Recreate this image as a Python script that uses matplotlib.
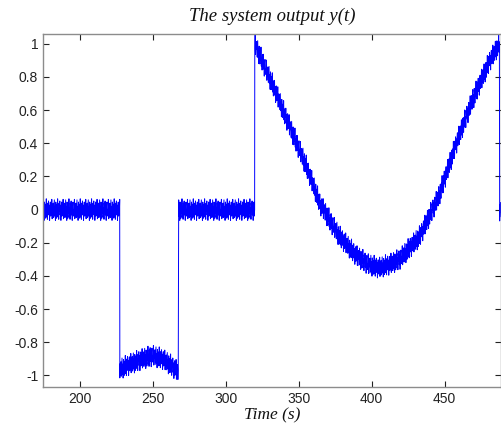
"""
System output plot: noisy step response followed by a slow swing.
"""

import matplotlib

matplotlib.use("Agg")
import matplotlib.pyplot as plt
import numpy as np

# Sample spacing of the logged signal (s)
DT = 0.25

# Trend knots (time, value), one list per segment
SEG_TIME = [
    [175.0, 227.5],
    [227.6, 235.0, 243.0, 250.0, 257.0, 263.0, 267.8],
    [267.9, 319.9],
    [320.0, 332.0, 344.0, 355.0, 365.0, 378.0, 390.0, 398.0, 405.0,
     412.0, 419.0, 433.0, 446.0, 458.0, 469.0, 481.0, 487.6],
    [487.7, 490.0],
]
SEG_VALUE = [
    [0.0, 0.0],
    [-0.96, -0.93, -0.90, -0.88, -0.90, -0.94, -0.98],
    [0.0, 0.0],
    [1.0, 0.76, 0.50, 0.27, 0.03, -0.16, -0.28, -0.33, -0.35,
     -0.33, -0.30, -0.16, 0.08, 0.40, 0.66, 0.90, 1.0],
    [-0.01, -0.01],
]

# Hand-typed measurement noise pattern (unit amplitude)
NOISE = [0.9, -0.6, 0.3, -1.0, 0.7, 0.1, -0.8, 0.5, -0.3, 1.0, -0.7,
         0.2, -0.9, 0.6, -0.1, 0.8, -0.5, 0.4, -1.0, 0.3, 0.7, -0.6,
         0.0, -0.4, 0.95, -0.85, 0.45, -0.2, 0.6, -0.75, 0.15]
NOISE_AMP = 0.065

X_TICKS = [200, 250, 300, 350, 400, 450]
Y_TICKS = [-1, -0.8, -0.6, -0.4, -0.2, 0, 0.2, 0.4, 0.6, 0.8, 1]
Y_TICK_LABELS = ["-1", "-0.8", "-0.6", "-0.4", "-0.2", "0",
                 "0.2", "0.4", "0.6", "0.8", "1"]


def build_signal():
    times, values = [], []
    for st, sv in zip(SEG_TIME, SEG_VALUE):
        t = np.arange(st[0], st[-1] + 1e-9, DT)
        times.append(t)
        values.append(np.interp(t, st, sv))
    t = np.concatenate(times)
    y = np.concatenate(values)
    noise = np.resize(np.array(NOISE), t.size) * NOISE_AMP
    return t, y + noise


def main():
    plt.rcParams["axes.unicode_minus"] = False
    t, y = build_signal()

    fig = plt.figure(figsize=(5.02, 4.25), dpi=100)
    ax = fig.add_axes([0.0857, 0.0894, 0.912, 0.831])
    ax.plot(t, y, color="#0000ff", linewidth=0.7)

    ax.set_xlim(175, 488.5)
    ax.set_ylim(-1.07, 1.06)
    ax.set_xticks(X_TICKS)
    ax.set_yticks(Y_TICKS)
    ax.set_yticklabels(Y_TICK_LABELS)
    ax.tick_params(direction="in", top=True, right=True, length=4,
                   width=0.8, labelsize=10, colors="#222222")
    for lbl in ax.get_xticklabels() + ax.get_yticklabels():
        lbl.set_family("Liberation Sans")
    for sp in ax.spines.values():
        sp.set_color("#8c8c8c")
        sp.set_linewidth(1.0)

    ax.set_title("The system output y(t)", family="Liberation Serif",
                 style="italic", fontsize=13.5, pad=9, color="#111111")
    ax.set_xlabel("Time (s)", family="Liberation Serif", style="italic",
                  fontsize=12.5, labelpad=1, color="#111111")

    fig.savefig("out.png", dpi=100)


if __name__ == "__main__":
    main()
